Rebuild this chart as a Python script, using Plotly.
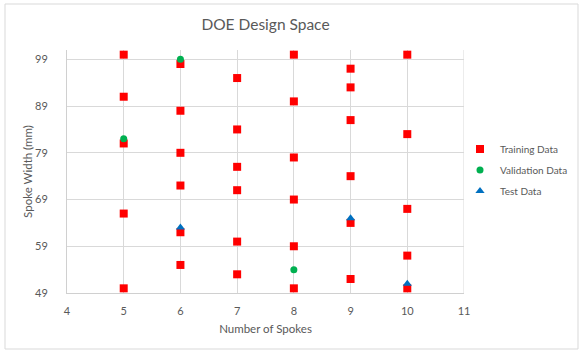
import plotly.graph_objects as go

# Data
train_x = [5, 5, 5, 5, 5,
           6, 6, 6, 6, 6, 6,
           7, 7, 7, 7, 7, 7,
           8, 8, 8, 8, 8, 8,
           9, 9, 9, 9, 9, 9,
           10, 10, 10, 10, 10]
train_y = [100, 91, 81, 66, 50,
           98, 88, 79, 72, 62, 55,
           95, 84, 76, 71, 60, 53,
           100, 90, 78, 69, 59, 50,
           97, 93, 86, 74, 64, 52,
           100, 83, 67, 57, 50]
val_x = [6, 5, 8]
val_y = [99, 82, 54]
test_x = [6, 9, 10]
test_y = [63, 65, 51]

y_ticks = [49, 59, 69, 79, 89, 99]
x_ticks = [4, 5, 6, 7, 8, 9, 10, 11]

W, H = 583, 355
L, R, T, B = 67, 119, 50, 62
pw, ph = W - L - R, H - T - B

def px_x(p):
    return (p - L) / pw

def px_y(p):
    return (H - B - p) / ph

font_family = "Lato, sans-serif"
grey = "#595959"

fig = go.Figure()
fig.add_trace(go.Scatter(x=train_x, y=train_y, mode="markers", name="Training Data",
                         legendgroup="a",
                         marker=dict(symbol="square", size=8, color="#FF0000")))
fig.add_trace(go.Scatter(x=val_x, y=val_y, mode="markers", name="Validation Data",
                         legendgroup="b",
                         marker=dict(symbol="circle", size=7, color="#00B050")))
fig.add_trace(go.Scatter(x=test_x, y=test_y, mode="markers", name="Test Data",
                         legendgroup="c",
                         marker=dict(symbol="triangle-up", size=8, color="#0070C0")))

fig.update_layout(
    width=W, height=H,
    margin=dict(l=L, r=R, t=T, b=B, autoexpand=False),
    paper_bgcolor="white", plot_bgcolor="white",
    font=dict(family=font_family, color=grey, size=11),
    title=dict(text="DOE Design Space", x=0.5, xref="paper", xanchor="center",
               y=1 - 25 / H, yanchor="middle",
               font=dict(size=15.5, color=grey, family=font_family)),
    showlegend=True,
    legend=dict(x=px_x(460), y=px_y(170), xanchor="left", yanchor="middle",
                font=dict(size=10, color=grey), itemwidth=30,
                traceorder="grouped", tracegroupgap=2,
                bgcolor="rgba(0,0,0,0)"),
    xaxis=dict(range=[4, 11], tickvals=x_ticks, showgrid=True, gridcolor="#D9D9D9",
               gridwidth=1, zeroline=False, showline=True, linecolor="#D0D0D0",
               linewidth=1, ticks="", ticklabelstandoff=8, automargin=False,
               title=dict(text="Number of Spokes", standoff=8,
                          font=dict(size=11.5, color=grey)),
               tickfont=dict(size=11, color=grey), fixedrange=True),
    yaxis=dict(range=[49, 101], tickvals=y_ticks, showgrid=True, gridcolor="#D9D9D9",
               gridwidth=1, zeroline=False, showline=True, linecolor="#D0D0D0",
               linewidth=1, ticks="", ticklabelstandoff=16, automargin=False,
               title=dict(text="Spoke Width (mm)", standoff=0,
                          font=dict(size=11.5, color=grey)),
               tickfont=dict(size=11, color=grey), fixedrange=True),
)

# right edge gridline at x=11 and outer chart border
fig.add_shape(type="line", xref="x", yref="paper", x0=11, x1=11, y0=0, y1=1,
              line=dict(color="#D9D9D9", width=1), layer="below")
fig.add_shape(type="rect", xref="paper", yref="paper",
              x0=px_x(5), x1=px_x(578), y0=px_y(349), y1=px_y(4),
              line=dict(color="#D9D9D9", width=1), fillcolor="rgba(0,0,0,0)")

fig.write_html("out.html", config={"displayModeBar": False},
               post_script="document.body.style.margin='0';document.body.style.overflow='hidden';")
